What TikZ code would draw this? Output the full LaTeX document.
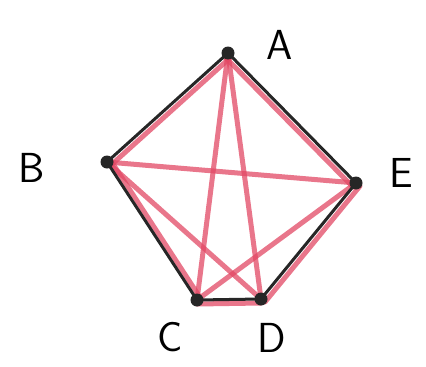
\documentclass[tikz,border=0pt]{standalone}
\usepackage{fontspec}
\setmainfont{DejaVu Sans}
\definecolor{pencilred}{RGB}{226,72,100}
\begin{document}
\begin{tikzpicture}[x=1pt,y=-1pt,
  vtx/.style={circle,fill=black!85,inner sep=0pt,minimum size=13pt},
  lbl/.style={font=\fontsize{42}{42}\selectfont\sffamily},
  rededge/.style={draw=pencilred,line width=5pt,opacity=0.75,line cap=round},
  blkedge/.style={draw=black!85,line width=3pt,line cap=round}]
\useasboundingbox (0,0) rectangle (426,367);
\coordinate (A) at (228,53);
\coordinate (B) at (107,162);
\coordinate (E) at (356,183);
\coordinate (C) at (197,300);
\coordinate (D) at (261,299);
% red: all pairs
\draw[rededge] (A) -- (C);
\draw[rededge] (A) -- (D);
\draw[rededge] (B) -- (E);
\draw[rededge] (B) -- (D);
\draw[rededge] (C) -- (E);
\draw[rededge] ([xshift=3pt,yshift=-4pt]A) -- ([xshift=3pt,yshift=-4pt]B);
\draw[rededge] ([xshift=-3pt,yshift=-4pt]A) -- ([xshift=-3pt,yshift=-4pt]E);
\draw[rededge] ([xshift=4pt,yshift=1pt]B) -- ([xshift=4pt,yshift=1pt]C);
\draw[rededge] ([yshift=-4pt]C) -- ([yshift=-4pt]D);
\draw[rededge] ([xshift=4pt,yshift=-3pt]D) -- ([xshift=4pt,yshift=-3pt]E);
% black pentagon
\draw[blkedge] (A) -- (B);
\draw[blkedge] (B) -- (C);
\draw[blkedge] (C) -- (D);
\draw[blkedge] (D) -- (E);
\draw[blkedge] (E) -- (A);
\node[vtx] (nA) at (A) {};
\node[vtx] (nB) at (B) {};
\node[vtx] (nC) at (C) {};
\node[vtx] (nD) at (D) {};
\node[vtx] (nE) at (E) {};
\node[lbl] (lA) at (280,45) {A};
\node[lbl] (lB) at (32,168) {B};
\node[lbl] (lE) at (401,173) {E};
\node[lbl] (lC) at (170,337) {C};
\node[lbl] (lD) at (272,338) {D};
\end{tikzpicture}
\end{document}
